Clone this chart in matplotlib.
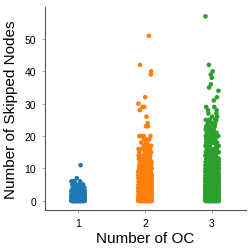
import numpy as np
import pandas as pd
import seaborn as sns
from matplotlib import pyplot as plt

# skipped-node values per OC count, stored as value -> number of runs
oc_labels = ['1', '2', '3']

oc1_values = [0, 1, 2, 3, 4, 5, 6, 7, 11]
oc1_counts = [220, 170, 110, 60, 14, 8, 5, 1, 1]

oc2_values = [0, 1, 2, 3, 4, 5, 6, 7, 8, 9, 10, 11, 12, 13, 14, 15, 16, 17, 18,
              19, 20, 23, 24, 26, 28, 29, 30, 32, 39, 40, 42, 51]
oc2_counts = [180, 160, 140, 120, 100, 90, 80, 70, 60, 50, 40, 30, 12, 10, 9, 7, 6,
              5, 4, 3, 5, 2, 1, 1, 1, 2, 1, 1, 1, 1, 1, 1]

oc3_values = [0, 1, 2, 3, 4, 5, 6, 7, 8, 9, 10, 11, 12, 13, 14, 15, 16, 17, 18,
              19, 20, 21, 22, 23, 24, 25, 26, 27, 28, 29, 31, 32, 34, 35, 36, 38,
              39, 40, 42, 57]
oc3_counts = [200, 180, 160, 150, 130, 120, 110, 100, 90, 80, 70, 60, 45, 30, 18,
              14, 12, 10, 9, 8, 8, 7, 9, 4, 3, 5, 2, 2, 2, 2, 1, 1, 1, 1, 1, 1,
              1, 1, 1, 1]

colors = ['#1f77b4', '#ff7f0e', '#2ca02c']

skipped = np.concatenate([np.repeat(oc1_values, oc1_counts),
                          np.repeat(oc2_values, oc2_counts),
                          np.repeat(oc3_values, oc3_counts)])
oc = np.concatenate([[oc_labels[0]] * sum(oc1_counts),
                     [oc_labels[1]] * sum(oc2_counts),
                     [oc_labels[2]] * sum(oc3_counts)])
df = pd.DataFrame({'OC': oc, 'Skipped': skipped})

plt.rcParams['font.family'] = ['Liberation Sans', 'DejaVu Sans']

np.random.seed(3)
fig = plt.figure(figsize=(2.49, 2.53), dpi=100)
ax = fig.add_axes([0.179, 0.166, 0.807, 0.802])
sns.stripplot(data=df, x='OC', y='Skipped', hue='OC', palette=colors,
              order=oc_labels, size=3.3, linewidth=0, legend=False, ax=ax)

ax.set_yticks([0, 10, 20, 30, 40, 50])
ax.set_ylim(-2.85, 59.85)
ax.set_xlabel('Number of OC', fontsize=11, labelpad=2)
ax.set_ylabel('Number of Skipped Nodes', fontsize=11, labelpad=5)
ax.tick_params(labelsize=7.5, length=2.5, width=0.6, color='#999999', pad=3.5)
ax.spines['top'].set_visible(False)
ax.spines['right'].set_visible(False)
for side in ['left', 'bottom']:
    ax.spines[side].set_color('#555555')
    ax.spines[side].set_linewidth(0.8)

plt.savefig('out.png', dpi=100)
